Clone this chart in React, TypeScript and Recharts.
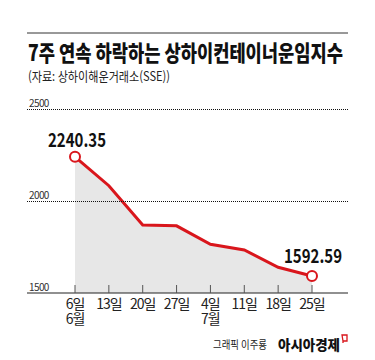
import { Area, ComposedChart, Line, XAxis, YAxis } from 'recharts';

const days = ['6일', '13일', '20일', '27일', '4일', '11일', '18일', '25일'];
const months = ['6월', '', '', '', '7월', '', '', ''];
const scfi = [2240.35, 2083, 1870, 1865, 1765, 1734, 1640, 1592.59];
const yTicks = [1500, 2000, 2500];

const data = days.map((d, i) => ({ day: d, month: months[i], v: scfi[i] }));

const KR = '"Noto Sans CJK KR", "Noto Sans", sans-serif';
const RED = '#d9161c';

function DayTick(props: any) {
  const { x, y, payload, index } = props;
  return (
    <g>
      <line x1={x} y1={y - 8} x2={x} y2={y} stroke="#555" strokeWidth={1} />
      <text x={x} y={y + 16} textAnchor="middle" fontFamily={KR} fontSize={14} letterSpacing={-1} fill="#222">
        {payload.value}
      </text>
      {months[index] && (
        <text x={x} y={y + 31} textAnchor="middle" fontFamily={KR} fontSize={14} letterSpacing={-1} fill="#222">
          {months[index]}
        </text>
      )}
    </g>
  );
}

// y tick label plus the dotted guide line across the plot
function ValueTick(props: any) {
  const { y, payload } = props;
  const gy = Math.round(y) + 0.5;
  return (
    <g>
      {payload.value !== yTicks[0] && (
        <line x1={27} y1={gy} x2={348} y2={gy} stroke="#111" strokeWidth={1} strokeDasharray="1 1" />
      )}
      <text x={29} y={y - 2} fontFamily={KR} fontSize={10} letterSpacing={-0.6} fill="#333">
        {payload.value}
      </text>
    </g>
  );
}

function EndDot(props: any) {
  const { cx, cy, index } = props;
  if (index !== 0 && index !== scfi.length - 1) return <g key={index} />;
  const first = index === 0;
  return (
    <g key={index}>
      <circle cx={cx} cy={cy} r={5} fill="#fff" stroke={RED} strokeWidth={2} />
      <text
        x={first ? cx + 2 : cx + 1}
        y={first ? cy - 10 : cy - 13}
        textAnchor="middle"
        fontFamily={KR}
        fontWeight={700}
        fontSize={19}
        textLength={58}
        lengthAdjust="spacingAndGlyphs"
        fill="#111"
      >
        {scfi[index].toFixed(2)}
      </text>
    </g>
  );
}

export default function App() {
  return (
    <div style={{ position: 'absolute', left: 0, top: 0, width: 375, height: 360, background: '#fff' }}>
      <ComposedChart
        width={375}
        height={360}
        data={data}
        margin={{ top: 109, right: 27, bottom: 27, left: 0 }}
      >
        <XAxis
          dataKey="day"
          padding={{ left: 48, right: 36 }}
          axisLine={{ stroke: '#222', strokeWidth: 1.2 }}
          tickLine={false}
          tickSize={0}
          tickMargin={0}
          height={40}
          interval={0}
          tick={<DayTick />}
        />
        <YAxis
          domain={[1500, 2500]}
          ticks={yTicks}
          width={27}
          axisLine={false}
          tickLine={false}
          tick={<ValueTick />}
        />
        <Area dataKey="v" stroke="none" fill="#e3e3e3" fillOpacity={0.85} isAnimationActive={false} baseValue={1500} />
        <Line
          dataKey="v"
          stroke={RED}
          strokeWidth={3}
          dot={<EndDot />}
          activeDot={false}
          isAnimationActive={false}
        />
      </ComposedChart>
      <svg width={375} height={360} style={{ position: 'absolute', left: 0, top: 0, pointerEvents: 'none' }}>
        <line x1={27} y1={33} x2={348} y2={33} stroke="#333" strokeWidth={1} />
        <text x={28} y={61} fontFamily={KR} fontWeight={900} fontSize={22} textLength={315} lengthAdjust="spacingAndGlyphs" fill="#111">
          7주 연속 하락하는 상하이컨테이너운임지수
        </text>
        <text x={28} y={81} fontFamily={KR} fontSize={13} textLength={142} lengthAdjust="spacingAndGlyphs" fill="#222">
          (자료: 상하이해운거래소(SSE))
        </text>
        <text x={213} y={349} fontFamily={KR} fontSize={11} textLength={54} lengthAdjust="spacingAndGlyphs" fill="#222">
          그래픽 이주룡
        </text>
        <text x={278} y={350} fontFamily={KR} fontWeight={900} fontSize={14} textLength={62} lengthAdjust="spacingAndGlyphs" fill="#111">
          아시아경제
        </text>
        <path d="M342 335 H347 V341 H343 Z M343 341 V343" fill="none" stroke={RED} strokeWidth={1.3} />
      </svg>
    </div>
  );
}
